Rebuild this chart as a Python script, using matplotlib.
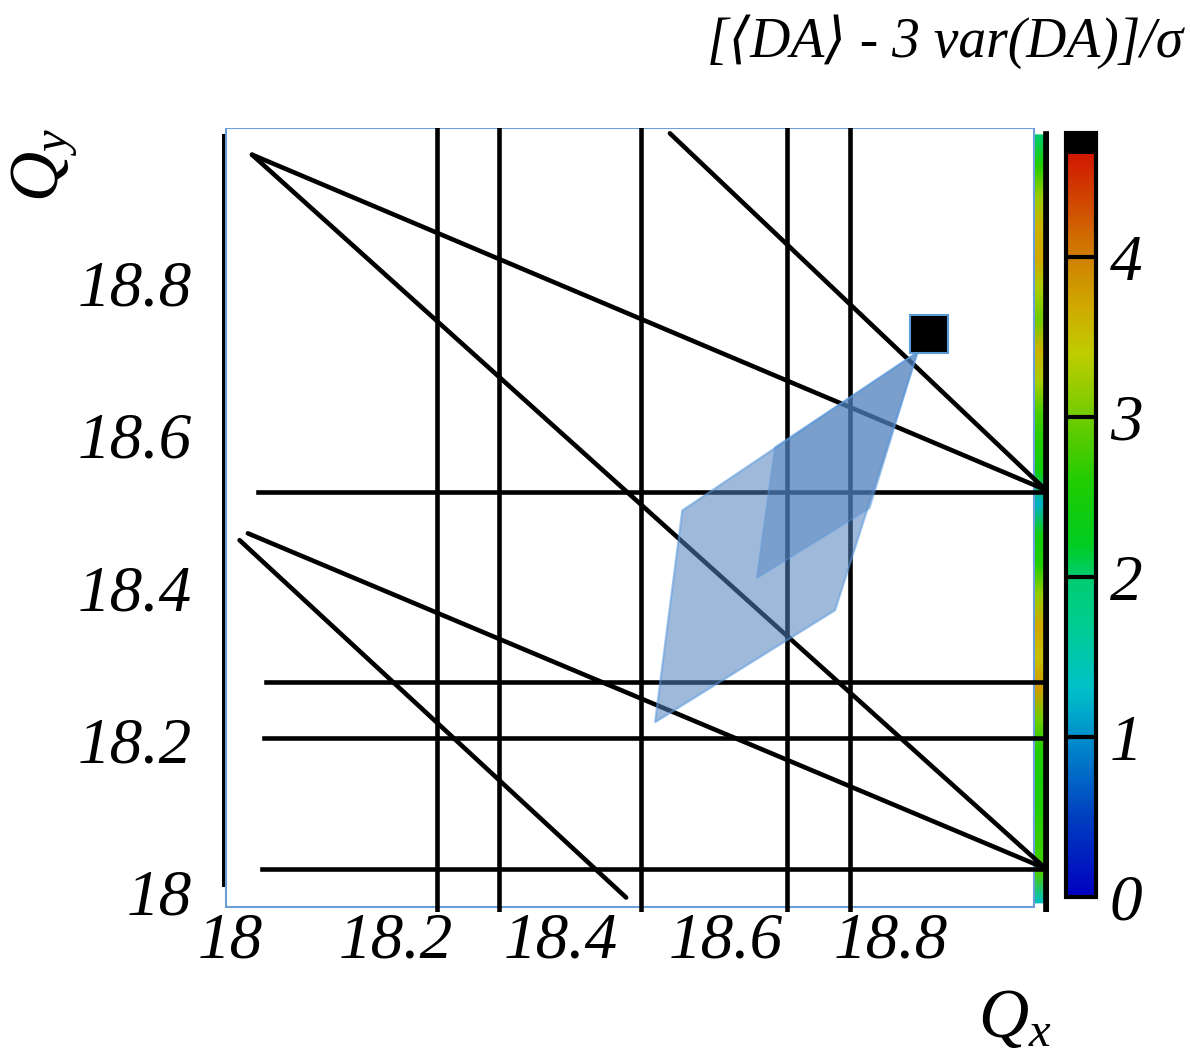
import numpy as np
import matplotlib
matplotlib.use("Agg")
import matplotlib.pyplot as plt
from matplotlib.colors import LinearSegmentedColormap, Normalize
from matplotlib.patches import Rectangle, Polygon
from matplotlib.cm import ScalarMappable

plt.rcParams['font.family'] = ['Liberation Serif', 'DejaVu Sans']
plt.rcParams['mathtext.fontset'] = 'custom'
plt.rcParams['mathtext.it'] = 'Liberation Serif:italic'
plt.rcParams['mathtext.rm'] = 'Liberation Serif'

# --- data ---
tick_vals = [18, 18.2, 18.4, 18.6, 18.8]
tick_labels = ["18", "18.2", "18.4", "18.6", "18.8"]

# vertical resonance lines (Qx), drawn over full height
v_lines = [18.25, 18.325, 18.497, 18.674, 18.75]
# horizontal resonance lines (Qy) and their left start
h_lines = [18.525, 18.276, 18.203, 18.030]
h_start = [18.033, 18.043, 18.041, 18.038]
# sloped lines: (x0, y0, x1, y1)
d_lines = [
    (18.026, 18.968, 18.987, 18.528),
    (18.026, 18.968, 18.987, 18.031),
    (18.532, 18.996, 18.987, 18.528),
    (18.021, 18.471, 18.987, 18.031),
    (18.011, 18.462, 18.479, 17.993),
]

# tune footprint polygons
poly_a_x = [18.547, 18.832, 18.732, 18.514]
poly_a_y = [18.501, 18.709, 18.370, 18.223]
poly_b_x = [18.637, 18.659, 18.832, 18.774]
poly_b_y = [18.412, 18.584, 18.709, 18.504]

# working point
wp_x, wp_y = 18.846, 18.733

# visible strip of DA map on the right edge (top to bottom)
strip_vals = [2.0, 2.6, 3.2, 3.6, 3.7, 3.3, 3.0, 3.6, 3.3, 2.8, 2.6, 2.4, 1.2,
              2.4, 2.6, 3.2, 3.7, 3.5, 3.8, 3.0, 2.6, 2.5, 2.6, 2.7, 2.8, 1.3]

cb_ticks = [0, 1, 2, 3, 4]
vmax = 4.775

# colormap
stops = [(0.0, '#0000c0'), (0.5, '#0040c0'), (1.0, '#0090cc'), (1.3, '#00c0c8'),
         (1.7, '#00cc90'), (2.0, '#00cc70'), (2.2, '#00cc20'), (2.6, '#20cc00'),
         (3.0, '#70cc00'), (3.4, '#c0cc00'), (3.7, '#d0a800'), (4.0, '#d08000'),
         (4.3, '#d05000'), (4.65, '#d01800'), (4.66, '#000000'), (vmax, '#000000')]
cmap = LinearSegmentedColormap.from_list('da', [(v / vmax, c) for v, c in stops], N=256)
norm = Normalize(0, vmax)

fig = plt.figure(figsize=(11.91, 10.58), dpi=100)
ax = fig.add_axes([222 / 1191, 1 - 912 / 1058, 827 / 1191, 784 / 1058])
ax.set_xlim(17.9897, 18.991)
ax.set_ylim(17.974, 19.003)
for s in ax.spines.values():
    s.set_visible(False)

# strip of the colour map peeking out on the right
sx = np.array([18.970, 18.987])
sy = np.linspace(18.994, 17.986, len(strip_vals))
SX, SY = np.meshgrid(sx, sy)
SC = np.repeat(np.array(strip_vals)[:, None], 2, axis=1)
ax.pcolormesh(SX, SY, SC, cmap=cmap, norm=norm, shading='gouraud', zorder=1)

# white box with thin blue border
ax.add_patch(Rectangle((17.9945, 17.980), 18.9729 - 17.9945, 19.003 - 17.980,
                       facecolor='white', edgecolor='#6a9fd8', lw=1.5, zorder=2))

# frame lines
ax.plot([17.9907, 17.9907], [18.010, 18.994], color='k', lw=2.2, zorder=3)
ax.plot([18.988, 18.988], [17.974, 18.994], color='k', lw=5.5, zorder=3)

lw = 3.3
for x in v_lines:
    ax.plot([x, x], [17.974, 19.003], color='k', lw=lw, zorder=3)
for y, x0 in zip(h_lines, h_start):
    ax.plot([x0, 18.987], [y, y], color='k', lw=lw, zorder=3)
for x0, y0, x1, y1 in d_lines:
    ax.plot([x0, x1], [y0, y1], color='k', lw=lw, zorder=3, solid_capstyle='round')

ax.add_patch(Polygon(np.column_stack([poly_a_x, poly_a_y]), closed=True,
                     facecolor='#4f81bd', alpha=0.55, edgecolor='#5b9be0', lw=1.6, zorder=4))
ax.add_patch(Polygon(np.column_stack([poly_b_x, poly_b_y]), closed=True,
                     facecolor='#4f81bd', alpha=0.45, edgecolor='#5b9be0', lw=1.2, zorder=4))

ax.plot([wp_x], [wp_y], marker='s', ms=27, mfc='k', mec='#5b9bd5', mew=1.5, zorder=5)

tick_font = dict(family=['Liberation Serif', 'DejaVu Sans'], style='italic', size=47)
ax.set_xticks(tick_vals)
ax.set_xticklabels(tick_labels, **tick_font)
ax.set_yticks(tick_vals)
ax.set_yticklabels(tick_labels, **tick_font)
ax.tick_params(axis='x', length=0, pad=0)
ax.tick_params(axis='y', length=0, pad=22)

# colour bar
cax = fig.add_axes([1066 / 1191, 1 - 897 / 1058, 30 / 1191, 764 / 1058])
sm = ScalarMappable(norm=norm, cmap=cmap)
cb = fig.colorbar(sm, cax=cax, ticks=cb_ticks)
cb.outline.set_linewidth(3)
cax.tick_params(length=0, pad=10)
cax.set_yticklabels([str(t) for t in cb_ticks], **tick_font)
for t in cb_ticks[1:]:
    cax.axhline(t, color='k', lw=3)

fig.text(1183 / 1191, 1 - 42 / 1058, "[\u27e8DA\u27e9 - 3 var(DA)]/\u03c3",
         ha='right', va='center', fontsize=40, style='italic',
         family=['Liberation Serif', 'DejaVu Sans'])
fig.text(45 / 1191, 1 - 165 / 1058, r"$Q_y$", rotation=90, ha='center', va='center', fontsize=50)
fig.text(1015 / 1191, 1 - 1020 / 1058, r"$Q_x$", ha='center', va='center', fontsize=50)

fig.savefig("out.png", dpi=100)
